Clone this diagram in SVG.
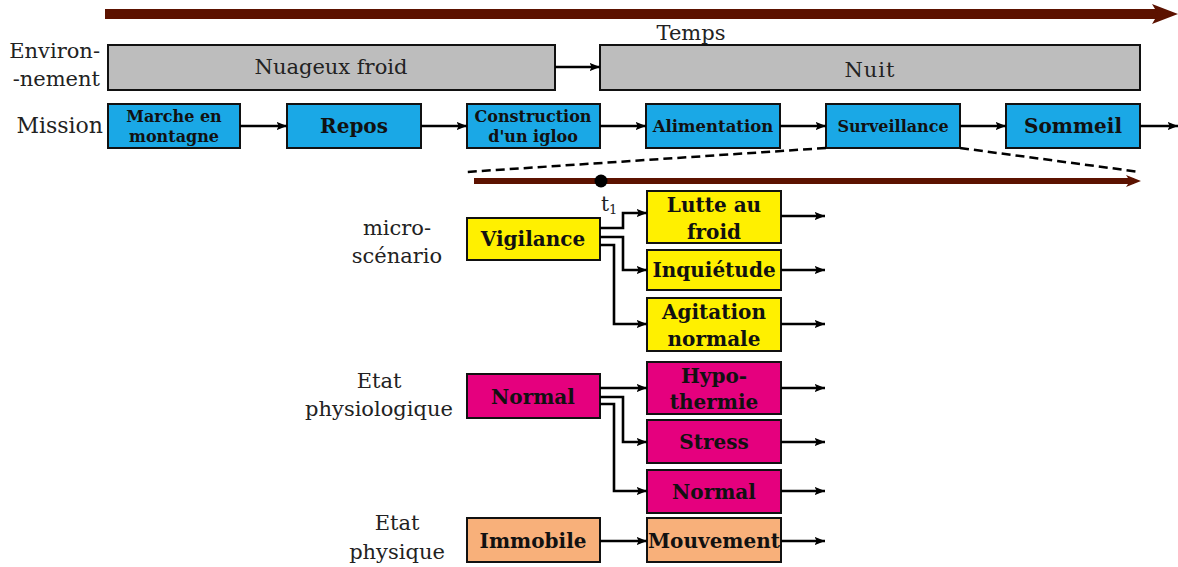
<svg xmlns="http://www.w3.org/2000/svg" width="1178" height="567" viewBox="0 0 1178 567">
<defs>
<style>
.lbl{font-family:"DejaVu Serif","Liberation Serif",serif;font-size:21px;fill:#222;}
.bx{font-family:"DejaVu Serif","Liberation Serif",serif;font-weight:bold;font-size:20px;fill:#111;text-anchor:middle;}
.sm{font-size:16px;}
.env{font-family:"DejaVu Serif","Liberation Serif",serif;font-size:21px;fill:#222;text-anchor:middle;}
.box{stroke:#111;stroke-width:2;}
.gray{fill:#bdbdbd;}
.blue{fill:#1aa8e6;}
.yel{fill:#fff000;}
.mag{fill:#e5007e;}
.pch{fill:#f8b07a;}
.c{fill:none;stroke:#000;stroke-width:2.6;marker-end:url(#ah);}
.dash{fill:none;stroke:#000;stroke-width:2.5;stroke-dasharray:9,5;}
</style>
<marker id="ah" viewBox="0 0 10 8" refX="10" refY="4" markerWidth="4" markerHeight="3.2" orient="auto" markerUnits="strokeWidth">
<path d="M0,0 L10,4 L0,8 L2,4 Z" fill="#000"/>
</marker>
</defs>
<rect width="1178" height="567" fill="#fff"/>

<g id="timeline">
<line x1="105" y1="14" x2="1160" y2="14" stroke="#5c1200" stroke-width="10"/>
<path d="M1152,4 L1178,14 L1152,24 L1158,14 Z" fill="#5c1200"/>
<text class="env" x="691" y="40">Temps</text>
</g>

<g id="row-labels">
<text class="lbl" x="100" y="58" text-anchor="end">Environ-</text>
<text class="lbl" x="100" y="86" text-anchor="end">-nement</text>
<text class="lbl" x="103" y="133" text-anchor="end" style="font-size:22px">Mission</text>
<text class="lbl" x="397" y="235" text-anchor="middle">micro-</text>
<text class="lbl" x="397" y="263" text-anchor="middle">scénario</text>
<text class="lbl" x="379" y="388" text-anchor="middle">Etat</text>
<text class="lbl" x="379" y="416" text-anchor="middle">physiologique</text>
<text class="lbl" x="397" y="530" text-anchor="middle">Etat</text>
<text class="lbl" x="397" y="559" text-anchor="middle">physique</text>
</g>

<g id="env-nuageux"><rect class="box gray" x="108" y="45" width="447" height="45"/><text class="env" x="331" y="74">Nuageux froid</text></g>
<g id="env-nuit"><rect class="box gray" x="600" y="45" width="540" height="45"/><text class="env" x="870" y="77" letter-spacing="1">Nuit</text></g>

<g id="m-marche"><rect class="box blue" x="108" y="104" width="132" height="44"/><text class="bx sm" x="174" y="122">Marche en</text><text class="bx sm" x="174" y="142">montagne</text></g>
<g id="m-repos"><rect class="box blue" x="287" y="104" width="134" height="44"/><text class="bx" x="354" y="133">Repos</text></g>
<g id="m-igloo"><rect class="box blue" x="467" y="104" width="133" height="44"/><text class="bx sm" x="533" y="122">Construction</text><text class="bx sm" x="533" y="142">d'un igloo</text></g>
<g id="m-alim"><rect class="box blue" x="646" y="104" width="134" height="44"/><text class="bx" x="713" y="132" style="font-size:16.5px">Alimentation</text></g>
<g id="m-surv"><rect class="box blue" x="826" y="104" width="134" height="44"/><text class="bx" x="893" y="132" style="font-size:16px">Surveillance</text></g>
<g id="m-sommeil"><rect class="box blue" x="1006" y="104" width="134" height="44"/><text class="bx" x="1073" y="133">Sommeil</text></g>

<g id="zoom-timeline">
<line x1="474" y1="181" x2="1134" y2="181" stroke="#5c1200" stroke-width="6"/>
<path d="M1126,175 L1141,181 L1126,187 L1130,181 Z" fill="#5c1200"/>
<circle cx="601" cy="181" r="6.5" fill="#000"/>
<text class="lbl" x="601" y="211" style="font-size:20px">t<tspan font-size="13" dy="3">1</tspan></text>
</g>

<g id="ms-vigilance"><rect class="box yel" x="467" y="218" width="133" height="42"/><text class="bx" x="533" y="246">Vigilance</text></g>
<g id="ms-lutte"><rect class="box yel" x="647" y="191" width="134" height="52"/><text class="bx" x="714" y="212">Lutte au</text><text class="bx" x="714" y="239">froid</text></g>
<g id="ms-inquietude"><rect class="box yel" x="647" y="250" width="134" height="40"/><text class="bx" x="714" y="277">Inquiétude</text></g>
<g id="ms-agitation"><rect class="box yel" x="647" y="298" width="134" height="53"/><text class="bx" x="714" y="319">Agitation</text><text class="bx" x="714" y="346">normale</text></g>

<g id="ep-normal"><rect class="box mag" x="467" y="374" width="133" height="44"/><text class="bx" x="533" y="404">Normal</text></g>
<g id="ep-hypo"><rect class="box mag" x="647" y="362" width="134" height="52"/><text class="bx" x="714" y="383">Hypo-</text><text class="bx" x="714" y="409">thermie</text></g>
<g id="ep-stress"><rect class="box mag" x="647" y="420" width="134" height="43"/><text class="bx" x="714" y="449">Stress</text></g>
<g id="ep-normal2"><rect class="box mag" x="647" y="470" width="134" height="43"/><text class="bx" x="714" y="499">Normal</text></g>

<g id="ph-immobile"><rect class="box pch" x="467" y="518" width="133" height="44"/><text class="bx" x="533" y="548">Immobile</text></g>
<g id="ph-mouvement"><rect class="box pch" x="647" y="518" width="134" height="44"/><text class="bx" x="714" y="548">Mouvement</text></g>

<g id="connectors">
<line class="c" x1="555" y1="67" x2="600" y2="67"/>
<line class="c" x1="240" y1="126" x2="287" y2="126"/>
<line class="c" x1="421" y1="126" x2="467" y2="126"/>
<line class="c" x1="600" y1="126" x2="646" y2="126"/>
<line class="c" x1="780" y1="126" x2="826" y2="126"/>
<line class="c" x1="960" y1="126" x2="1006" y2="126"/>
<line class="c" x1="1140" y1="126" x2="1178" y2="126"/>
<line class="dash" x1="826" y1="148" x2="466" y2="172"/>
<line class="dash" x1="960" y1="148" x2="1140" y2="172"/>
<polyline class="c" points="600,228 623,228 623,213 647,213"/>
<polyline class="c" points="600,237 623,237 623,270 647,270"/>
<polyline class="c" points="600,245 614,245 614,324 647,324"/>
<line class="c" x1="781" y1="216" x2="825" y2="216"/>
<line class="c" x1="781" y1="270" x2="825" y2="270"/>
<line class="c" x1="781" y1="324" x2="825" y2="324"/>
<line class="c" x1="600" y1="388" x2="647" y2="388"/>
<polyline class="c" points="600,397 623,397 623,442 647,442"/>
<polyline class="c" points="600,404 614,404 614,491 647,491"/>
<line class="c" x1="781" y1="388" x2="825" y2="388"/>
<line class="c" x1="781" y1="442" x2="825" y2="442"/>
<line class="c" x1="781" y1="491" x2="825" y2="491"/>
<line class="c" x1="600" y1="541" x2="647" y2="541"/>
<line class="c" x1="781" y1="541" x2="825" y2="541"/>
</g>
</svg>
